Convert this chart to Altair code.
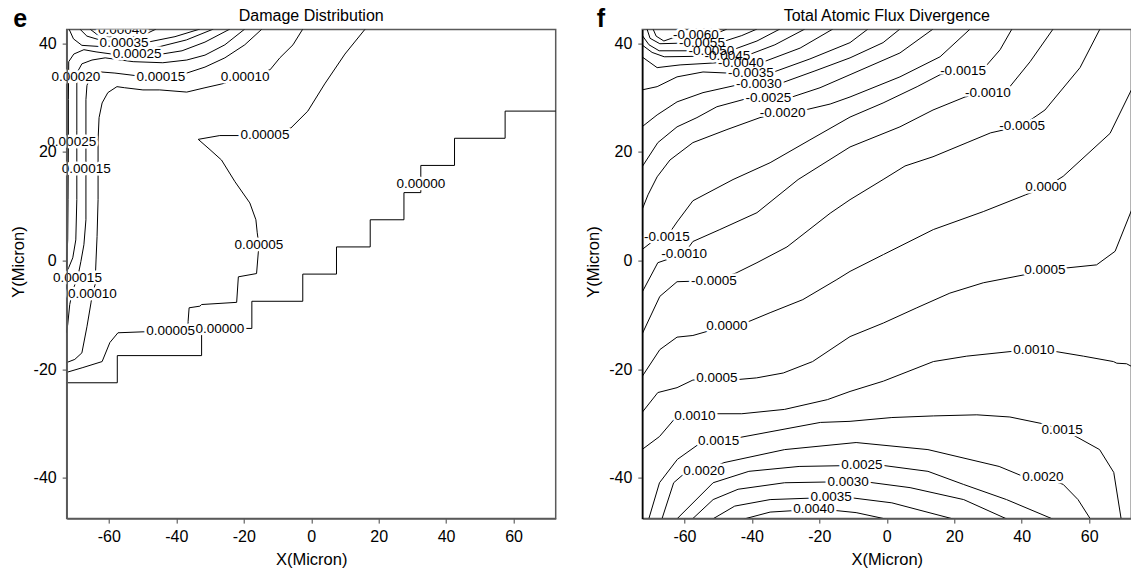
import altair as alt
import pandas as pd

FONT = "Liberation Sans"
X_TICKS = [-60, -40, -20, 0, 20, 40, 60]
Y_TICKS = [-40, -20, 0, 20, 40]
X_DOMAIN = [-72.5, 72.5]
Y_DOMAIN = [-47.5, 42.5]

# ---------------- Panel e : Damage Distribution (x, y in micron) ----------------
E_040 = [(-65.6, 42.6), (-63.5, 41.6), (-60, 41.2), (-56, 41.0), (-50, 41.4), (-46, 42.6)]
E_035 = [(-68.6, 42.6), (-66.5, 41.3), (-62.7, 40.6), (-55.5, 40.1), (-48.4, 40.2), (-40.4, 41.2), (-33, 42.6)]
E_030 = [(-71.8, 42.6), (-70.5, 40.8), (-68, 39.6), (-63, 39.4), (-55, 39.2), (-46, 39.2), (-37, 40.6), (-29, 42.6)]
E_025 = [(-24.1, 42.6), (-31.5, 40.2), (-38.3, 38.6), (-44.3, 38.0), (-51.6, 38.0), (-59.1, 38.0), (-63.8, 38.4),
         (-67.4, 38.8), (-70.4, 38.0), (-71.9, 36.6), (-72.0, 29.6), (-72.0, 21.8), (-72.1, 11.2), (-72.2, 3.8),
         (-72.6, -1.3)]
E_020 = [(-19.7, 42.6), (-25.6, 39.7), (-31.5, 37.8), (-36.9, 36.9), (-44.0, 36.4), (-52.8, 36.6), (-61.1, 37.3),
         (-65.0, 36.9), (-68.0, 36.2), (-69.5, 34.5), (-69.5, 32.3), (-69.5, 24.0), (-69.5, 11.2), (-69.8, 3.8),
         (-70.7, 0.5), (-71.9, -1.3), (-72.6, -2.1)]
E_015 = [(-14.6, 42.6), (-19.7, 39.7), (-25.6, 37.3), (-31.5, 35.6), (-36.9, 34.5), (-44.6, 33.8), (-51.6, 34.0),
         (-58.2, 34.5), (-62.3, 34.7), (-65.5, 33.8), (-66.5, 32.2), (-66.8, 29.6), (-66.8, 16.9), (-66.8, 7.5),
         (-67.4, 2.9), (-68.3, -0.2), (-69.3, -3.3), (-70.7, -5.4), (-71.6, -8.1), (-72.2, -11.8), (-72.6, -13.3)]
E_010 = [(-2.5, 42.6), (-5.4, 39.7), (-9.3, 37.3), (-12.2, 35.1), (-19.6, 33.8), (-26.5, 32.5), (-31.5, 31.8),
         (-36.9, 31.0), (-44.9, 31.4), (-49.9, 31.4), (-55.3, 31.8), (-57.6, 32.0), (-60.3, 30.9), (-62.0, 29.0),
         (-62.9, 26.3), (-63.2, 22.2), (-63.2, 11.2), (-63.5, 4.4), (-63.8, 0.1), (-64.1, -4.5), (-64.9, -6.1),
         (-65.3, -7.8), (-66.5, -12.2), (-68.0, -17.0), (-70.1, -18.2), (-72.6, -18.8)]
E_005 = [(16.0, 42.6), (10.0, 38.0), (4.0, 32.5), (-1.0, 27.5), (-6.0, 24.4), (-13.7, 23.1), (-21.1, 23.0),
         (-27.1, 23.0), (-33.5, 22.3), (-30.0, 20.4), (-26.6, 18.5), (-22.6, 14.5), (-18.2, 10.6), (-16.4, 7.5),
         (-16.0, 5.1), (-15.5, 2.8), (-15.7, 1.4), (-16.2, -2.4), (-21.6, -3.0), (-22.1, -7.7), (-32.5, -8.1),
         (-33.0, -8.4), (-36.2, -8.7), (-36.5, -11.2), (-36.5, -12.5), (-41.7, -13.0), (-48.8, -13.1),
         (-57.3, -13.3), (-59.7, -15.1), (-62.0, -18.6), (-67.7, -19.7), (-72.6, -20.6)]
E_000 = [(-72.6, -22.5), (-57.5, -22.5), (-57.5, -17.5), (-32.5, -17.5), (-32.5, -12.5), (-17.6, -12.5),
         (-17.6, -7.5), (-2.5, -7.5), (-2.5, -2.5), (7.5, -2.5), (7.5, 2.5), (17.5, 2.5), (17.5, 7.5), (27.5, 7.5),
         (27.5, 12.5), (32.5, 12.5), (32.5, 17.5), (42.5, 17.5), (42.5, 22.5), (57.5, 22.5), (57.5, 27.5),
         (72.6, 27.5)]

E_LABEL_TEXT = ["0.00035", "0.00025", "0.00020", "0.00015", "0.00010", "0.00005", "0.00025", "0.00015",
                "0.00005", "0.00015", "0.00010", "0.00005", "0.00000", "0.00000"]
E_LABEL_X = [-55.5, -51.6, -69.8, -44.6, -19.6, -13.7, -71.0, -66.7, -15.5, -69.3, -64.9, -41.7, -27.1, 32.5]
E_LABEL_Y = [40.1, 38.0, 33.8, 33.8, 33.8, 23.1, 21.8, 16.9, 2.8, -3.3, -6.1, -13.0, -12.6, 14.1]
# label that is cut by the top frame
E_TOP_TEXT = ["0.00040"]
E_TOP_X = [-56.0]
E_TOP_Y = [42.4]

# ---------------- Panel f : Total Atomic Flux Divergence ----------------
F_M060 = [(-69.3, 42.6), (-68.4, 41.3), (-66.1, 40.4), (-63.4, 41.0), (-56.6, 41.5), (-50.1, 41.9), (-47.4, 42.6)]
F_M055 = [(-71.1, 42.6), (-70.2, 40.9), (-67.3, 39.9), (-61.3, 40.0), (-54.8, 40.1), (-48.0, 40.4), (-43.0, 41.4),
          (-38.5, 42.6)]
F_M050 = [(-72.6, 41.5), (-70.5, 39.7), (-67.5, 38.6), (-58.7, 38.6), (-52.1, 38.6), (-45.6, 38.8), (-38.5, 40.4),
          (-31.7, 42.6)]
F_M045 = [(-72.6, 39.7), (-69.6, 38.3), (-66.0, 37.5), (-54.0, 37.6), (-47.4, 37.7), (-41.2, 37.8), (-33.2, 39.7),
          (-24.3, 42.6)]
F_M040 = [(-72.6, 37.5), (-68.1, 35.5), (-61.3, 36.0), (-50.1, 36.4), (-43.2, 36.4), (-36.4, 36.6), (-25.7, 39.1),
          (-16.0, 42.6)]
F_M035 = [(-72.6, 31.4), (-68.1, 32.0), (-62.2, 33.8), (-54.5, 34.7), (-47.1, 34.5), (-40.3, 34.5), (-33.5, 34.7),
          (-22.8, 37.1), (-10.9, 40.1), (-5.6, 42.6)]
F_M030 = [(-72.6, 24.6), (-68.1, 26.8), (-62.2, 29.2), (-54.5, 30.9), (-44.4, 32.3), (-37.9, 32.5), (-31.1, 32.7),
          (-21.3, 34.9), (-10.9, 37.3), (-1.1, 40.1), (3.9, 42.6)]
F_M025 = [(-72.6, 17.2), (-67.9, 21.7), (-62.2, 24.6), (-56.3, 26.3), (-50.4, 28.3), (-41.5, 29.8), (-35.1, 29.9),
          (-28.1, 30.1), (-19.8, 31.8), (-10.9, 34.2), (3.9, 38.2), (13.7, 42.6)]
F_M020 = [(-72.6, 9.3), (-70.8, 12.1), (-68.1, 15.4), (-64.3, 18.5), (-57.5, 21.7), (-47.4, 24.1), (-37.6, 26.3),
          (-31.1, 27.2), (-24.3, 27.7), (-16.8, 28.8), (-10.9, 30.1), (3.9, 33.8), (15.8, 37.5), (24.7, 42.6)]
F_M015 = [(-72.6, 2.0), (-69.5, 3.5), (-65.2, 4.4), (-62.2, 7.1), (-57.5, 11.0), (-45.6, 14.9), (-34.6, 18.0),
          (-22.8, 22.2), (-10.9, 26.4), (-1.1, 29.0), (9.0, 32.0), (15.8, 34.2), (22.6, 34.9), (29.4, 35.8),
          (33.6, 38.8), (37.1, 42.6)]
F_M010 = [(-72.6, -5.9), (-67.9, -0.4), (-60.1, 1.25), (-57.5, 3.5), (-49.5, 5.7), (-38.5, 8.8), (-26.3, 14.9),
          (-10.9, 20.9), (3.9, 24.6), (13.7, 27.7), (23.2, 30.1), (30.0, 30.9), (36.5, 32.0), (42.5, 36.6),
          (49.3, 42.6)]
F_M005 = [(-72.6, -13.6), (-67.3, -6.6), (-62.2, -3.9), (-51.3, -3.7), (-44.7, -2.3), (-38.5, -0.4), (-29.6, 2.5),
          (-16.8, 8.7), (-10.9, 11.2), (-1.1, 14.9), (5.4, 17.4), (13.7, 19.1), (23.8, 21.7), (30.8, 23.5),
          (40.1, 24.8), (46.9, 27.7), (57.3, 35.5), (63.2, 42.6)]
F_000 = [(-72.6, -21.4), (-67.3, -16.4), (-62.2, -14.1), (-57.5, -13.8), (-47.4, -12.0), (-41.2, -11.3),
         (-34.6, -9.6), (-24.9, -7.2), (-14.8, -3.5), (-10.9, -2.0), (-1.0, 1.1), (13.8, 5.7), (28.6, 9.0),
         (41.2, 12.1), (47.2, 13.5), (52.3, 15.5), (66.2, 23.4), (72.6, 31.5)]
F_005 = [(-72.6, -28.0), (-67.9, -24.3), (-62.2, -23.4), (-57.5, -22.0), (-50.4, -21.7), (-44.1, -21.9),
         (-38.6, -21.6), (-30.7, -20.7), (-22.0, -18.6), (-10.9, -14.0), (-1.0, -11.5), (8.9, -8.7), (18.7, -6.0),
         (28.6, -4.1), (41.0, -2.6), (46.9, -1.8), (52.8, -1.4), (62.2, -0.8), (67.7, 1.7), (72.6, 9.3)]
F_010 = [(-72.6, -34.8), (-67.4, -32.4), (-63.0, -29.2), (-56.9, -28.6), (-50.7, -28.2), (-43.0, -28.2),
         (-30.3, -27.4), (-17.6, -25.6), (-10.9, -24.1), (-1.0, -22.2), (13.8, -18.6), (23.7, -17.6), (37.5, -16.7),
         (43.6, -16.5), (49.6, -16.7), (58.3, -17.6), (67.2, -18.6), (68.2, -18.9), (71.1, -19.0), (72.6, -19.5)]
F_015 = [(-70.6, -47.6), (-67.4, -40.9), (-62.1, -36.6), (-56.0, -33.9), (-49.9, -33.3), (-43.9, -32.6),
         (-19.7, -29.8), (-10.9, -29.6), (1.5, -28.9), (13.8, -28.6), (26.7, -28.4), (36.5, -28.8), (45.9, -30.0),
         (52.0, -31.2), (56.7, -32.6), (63.1, -34.8), (67.3, -39.0), (69.5, -47.6)]
F_020 = [(-66.7, -47.6), (-63.2, -40.9), (-60.4, -39.4), (-54.2, -38.8), (-48.3, -37.2), (-30.3, -34.8),
         (-9.1, -33.5), (12.2, -34.8), (33.3, -37.9), (40.3, -39.7), (46.3, -39.9), (52.3, -41.2), (56.7, -44.0),
         (60.4, -47.6)]
F_025 = [(-62.3, -47.6), (-51.5, -40.9), (-40.9, -38.8), (-26.0, -37.9), (-7.4, -37.7), (-1.3, -37.7),
         (12.2, -38.8), (22.7, -41.2), (35.5, -44.0), (49.3, -47.6)]
F_030 = [(-57.7, -47.6), (-51.5, -44.0), (-44.1, -42.1), (-30.3, -40.9), (-11.5, -40.7), (-5.4, -40.8),
         (6.9, -41.8), (22.8, -44.0), (35.7, -47.6)]
F_035 = [(-51.7, -47.6), (-45.1, -45.2), (-34.6, -44.0), (-16.5, -43.6), (-10.1, -43.7), (1.5, -44.6),
         (19.9, -47.6)]
F_040 = [(-42.5, -47.6), (-34.6, -46.3), (-21.6, -45.8), (-15.4, -46.0), (-9.1, -46.4), (-0.1, -47.6)]

F_LABEL_TEXT = ["-0.0060", "-0.0055", "-0.0050", "-0.0045", "-0.0040", "-0.0035", "-0.0030", "-0.0025",
                "-0.0020", "-0.0015", "-0.0015", "-0.0010", "-0.0010", "-0.0005", "-0.0005", "0.0000",
                "0.0000", "0.0005", "0.0005", "0.0010", "0.0010", "0.0015", "0.0015", "0.0020", "0.0020",
                "0.0025", "0.0030", "0.0035", "0.0040"]
F_LABEL_X = [-56.6, -54.8, -52.0, -47.3, -43.3, -40.3, -37.9, -35.1, -30.9, -65.2, 22.6, -60.1, 30.0, -51.3,
             40.1, -47.4, 47.2, -50.4, 46.9, -56.9, 43.6, -49.9, 52.0, -54.2, 46.3, -7.4, -11.5, -16.5, -21.6]
F_LABEL_Y = [41.5, 40.1, 38.6, 37.7, 36.4, 34.6, 32.5, 29.9, 27.2, 4.4, 34.9, 1.25, 30.9, -3.7, 24.8, -12.0,
             13.5, -21.7, -1.8, -28.6, -16.5, -33.3, -31.2, -38.8, -39.9, -37.7, -40.7, -43.6, -45.8]

E_CONTOURS = [("e040", E_040), ("e035", E_035), ("e030", E_030), ("e025", E_025), ("e020", E_020),
              ("e015", E_015), ("e010", E_010), ("e005", E_005), ("e000", E_000)]
F_CONTOURS = [("fm060", F_M060), ("fm055", F_M055), ("fm050", F_M050), ("fm045", F_M045), ("fm040", F_M040),
              ("fm035", F_M035), ("fm030", F_M030), ("fm025", F_M025), ("fm020", F_M020), ("fm015", F_M015),
              ("fm010", F_M010), ("fm005", F_M005), ("f000", F_000), ("f005", F_005), ("f010", F_010),
              ("f015", F_015), ("f020", F_020), ("f025", F_025), ("f030", F_030), ("f035", F_035), ("f040", F_040)]


def lines_frame(contours):
    rows = []
    for name, pts in contours:
        for i, (x, y) in enumerate(pts):
            rows.append({"c": name, "i": i, "x": x, "y": y})
    return pd.DataFrame(rows)


def label_frame(texts, xs, ys):
    return pd.DataFrame({"t": texts, "x": xs, "y": ys})


W = 489
H = 489
LBL = 13.5
PLAIN_MINUS = "'' + datum.value"


def panel(lines_df, labels_df, clipped_df, title, letter, letter_x, ydomain_color):
    xs = alt.Scale(domain=X_DOMAIN, nice=False, zero=False)
    ys = alt.Scale(domain=Y_DOMAIN, nice=False, zero=False)
    xaxis = alt.Axis(values=X_TICKS, title="X(Micron)", titleX=W / 2, titleY=41, titleBaseline="middle",
                     labelPadding=5, tickSize=4.5, zindex=1, labelExpr=PLAIN_MINUS)
    yaxis = alt.Axis(values=Y_TICKS, title="Y(Micron)", titleX=-48.4, titleY=232, titleBaseline="middle",
                     labelPadding=6, tickSize=4.5, zindex=1, domainColor=ydomain_color, labelExpr=PLAIN_MINUS)
    X = alt.X("x:Q", scale=xs, axis=xaxis)
    Y = alt.Y("y:Q", scale=ys, axis=yaxis)
    lines = alt.Chart(lines_df).mark_line(color="black", strokeWidth=1, clip=True).encode(
        x=X, y=Y, detail="c:N", order="i:Q")
    halo = alt.Chart(labels_df).mark_text(font=FONT, fontSize=LBL, color="white", stroke="white",
                                          strokeWidth=5, strokeJoin="round").encode(x=X, y=Y, text="t:N")
    text = alt.Chart(labels_df).mark_text(font=FONT, fontSize=LBL, color="black").encode(x=X, y=Y, text="t:N")
    layers = [lines, halo, text]
    if clipped_df is not None:
        layers.append(alt.Chart(clipped_df).mark_text(font=FONT, fontSize=LBL, color="white", stroke="white",
                                                      strokeWidth=5, clip=True).encode(x=X, y=Y, text="t:N"))
        layers.append(alt.Chart(clipped_df).mark_text(font=FONT, fontSize=LBL, color="black",
                                                      clip=True).encode(x=X, y=Y, text="t:N"))
    ttl = alt.Chart(pd.DataFrame({"t": [title]})).mark_text(
        font=FONT, fontSize=16, color="black", baseline="alphabetic", align="center").encode(
        text="t:N", x=alt.value(W / 2), y=alt.value(-8.6))
    let = alt.Chart(pd.DataFrame({"t": [letter]})).mark_text(
        font=FONT, fontSize=25, fontWeight="bold", color="black", baseline="alphabetic", align="left").encode(
        text="t:N", x=alt.value(letter_x), y=alt.value(-3))
    layers += [ttl, let]
    return alt.layer(*layers).properties(width=W, height=H)


e_chart = panel(lines_frame(E_CONTOURS), label_frame(E_LABEL_TEXT, E_LABEL_X, E_LABEL_Y),
                label_frame(E_TOP_TEXT, E_TOP_X, E_TOP_Y), "Damage Distribution", "e", -53.4, "#5a5a5a")
f_chart = panel(lines_frame(F_CONTOURS), label_frame(F_LABEL_TEXT, F_LABEL_X, F_LABEL_Y), None,
                "Total Atomic Flux Divergence", "f", -45.6, "black")

chart = alt.hconcat(e_chart, f_chart, spacing=86.6, bounds="flush").properties(
    autosize=alt.AutoSizeParams(type="none"),
    padding={"left": 66.7, "top": 29.6, "right": 1064.3, "bottom": 540.4},
).configure_view(stroke="#5a5a5a", strokeWidth=1.5).configure_axis(
    grid=False, labelFont=FONT, labelFontSize=16, labelColor="black", titleFont=FONT, titleFontSize=16.5,
    titleFontWeight="normal", titleColor="black", domainColor="#5a5a5a", domainWidth=1.5, tickColor="#444",
    tickWidth=1)

chart.save("out.html", embed_options={"renderer": "svg", "actions": False})
